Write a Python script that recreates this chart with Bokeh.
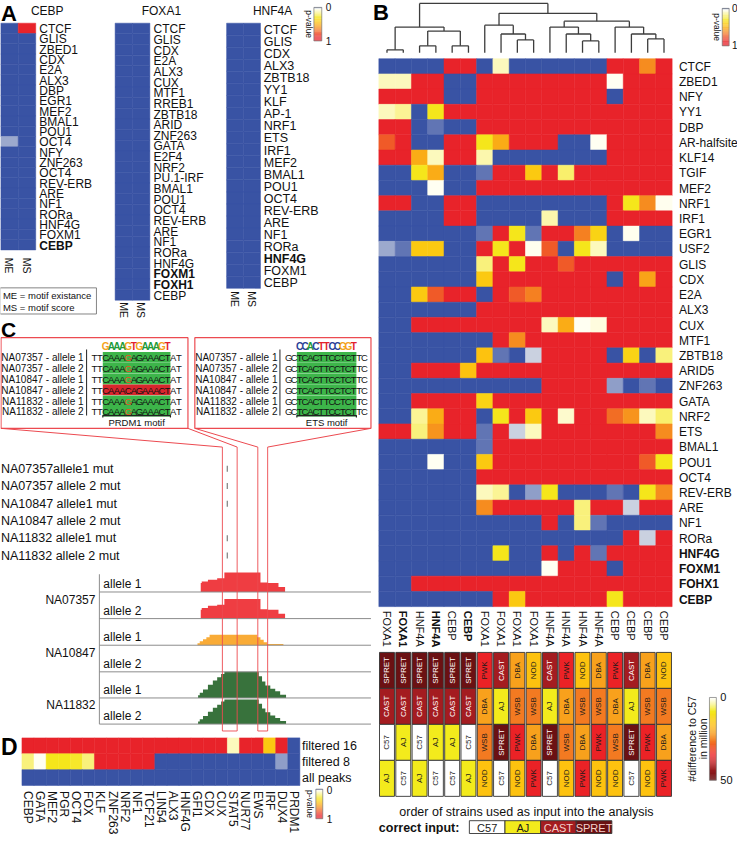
import numpy as np
from bokeh.plotting import figure
from bokeh.models import ColumnDataSource, LinearColorMapper, Range1d
from bokeh.core.properties import value
from bokeh.embed import file_html
from bokeh.resources import INLINE

# ============================ DATA ============================
# ---- Panel A: p-values of motif enrichment (ME = motif existance, MS = motif score)
a_cebp_motifs = ["CTCF", "GLIS", "ZBED1", "CDX", "E2A", "ALX3", "DBP", "EGR1", "MEF2", "BMAL1", "POU1",
                 "OCT4", "NFY", "ZNF263", "OCT4", "REV-ERB", "ARE", "NF1", "RORa", "HNF4G", "FOXM1", "CEBP"]
a_cebp_me = [0, 0, 0, 0, 0, 0, 0, 0, 0, 0, 0, 0.015, 0, 0, 0, 0, 0, 0, 0, 0, 0, 0]
a_cebp_ms = [1, 0, 0, 0, 0, 0, 0, 0, 0, 0, 0, 0, 0, 0, 0, 0, 0, 0, 0, 0, 0, 0]

a_foxa1_motifs = ["CTCF", "GLIS", "CDX", "E2A", "ALX3", "CUX", "MTF1", "RREB1", "ZBTB18", "ARID", "ZNF263",
                  "GATA", "E2F4", "NRF2", "PU.1-IRF", "BMAL1", "POU1", "OCT4", "REV-ERB", "ARE", "NF1", "RORa",
                  "HNF4G", "FOXM1", "FOXH1", "CEBP"]
a_foxa1_me = [0, 0, 0, 0, 0, 0, 0, 0, 0, 0, 0, 0, 0, 0, 0, 0, 0, 0, 0, 0, 0, 0, 0, 0, 0, 0]
a_foxa1_ms = [0, 0, 0, 0, 0, 0, 0, 0, 0, 0, 0, 0, 0, 0, 0, 0, 0, 0, 0, 0, 0, 0, 0, 0, 0, 0]

a_hnf4a_motifs = ["CTCF", "GLIS", "CDX", "ALX3", "ZBTB18", "YY1", "KLF", "AP-1", "NRF1", "ETS", "IRF1",
                  "MEF2", "BMAL1", "POU1", "OCT4", "REV-ERB", "ARE", "NF1", "RORa", "HNF4G", "FOXM1", "CEBP"]
a_hnf4a_me = [0, 0, 0, 0, 0, 0, 0, 0, 0, 0, 0, 0, 0, 0, 0, 0, 0, 0, 0, 0, 0, 0]
a_hnf4a_ms = [0, 0, 0, 0, 0, 0, 0, 0, 0, 0, 0, 0, 0, 0, 0, 0, 0, 0, 0, 0, 0, 0]

# ---- Panel B: p-values, rows = motifs, columns = analyses
b_columns = ["FOXA1", "FOXA1", "HNF4A", "HNF4A", "CEBP", "CEBP", "FOXA1", "FOXA1", "FOXA1", "FOXA1",
             "HNF4A", "HNF4A", "HNF4A", "HNF4A", "CEBP", "CEBP", "CEBP", "CEBP"]
b_motifs = ["CTCF", "ZBED1", "NFY", "YY1", "DBP", "AR-halfsite", "KLF14", "TGIF", "MEF2", "NRF1", "IRF1",
            "EGR1", "USF2", "GLIS", "CDX", "E2A", "ALX3", "CUX", "MTF1", "ZBTB18", "ARID5", "ZNF263", "GATA",
            "NRF2", "ETS", "BMAL1", "POU1", "OCT4", "REV-ERB", "ARE", "NF1", "RORa", "HNF4G", "FOXM1",
            "FOHX1", "CEBP"]
b_pvalues = [
    [0, 0, 0, 0, 1, 1, 0, 0.1, 0, 0, 0, 0, 0, 0, 1, 1, 0.62, 1],
    [0.1, 0.1, 1, 1, 0, 0, 1, 1, 1, 1, 1, 1, 1, 1, 0.035, 1, 1, 1],
    [1, 1, 1, 1, 0, 0, 1, 1, 1, 1, 1, 1, 1, 1, 0, 1, 1, 1],
    [0.1, 0.15, 0, 0.3, 1, 1, 1, 1, 1, 1, 1, 1, 1, 1, 1, 1, 1, 1],
    [1, 1, 0, 0.006, 0, 0, 1, 1, 1, 1, 1, 1, 1, 1, 1, 1, 1, 1],
    [0.75, 1, 0, 0, 1, 1, 0.3, 0.52, 1, 1, 1, 0, 0, 0.035, 1, 1, 1, 1],
    [1, 1, 0.52, 0.1, 1, 1, 0.12, 0, 0, 0, 0, 0, 0, 0, 1, 1, 1, 1],
    [0, 0, 0.3, 0.52, 0, 0, 0.006, 1, 1, 0.42, 1, 0.2, 1, 1, 1, 1, 1, 1],
    [0, 0, 0, 0.035, 0, 0, 1, 1, 1, 1, 1, 1, 1, 1, 1, 1, 1, 1],
    [1, 1, 0, 0, 1, 1, 0, 0, 0, 0, 0, 0, 0, 0, 1, 0.3, 0.62, 0.04],
    [0, 0, 0, 0, 1, 1, 0, 0, 0, 0, 0.12, 0, 0, 0, 1, 1, 1, 1],
    [0, 0, 0, 0, 0, 0, 0.006, 1, 0.3, 0.006, 1, 1, 0.65, 0.38, 0, 0.04, 0, 0],
    [0.015, 0.006, 0.42, 0.42, 0, 0, 1, 0.3, 1, 0.04, 0.75, 0, 0.3, 0.1, 0, 0, 0, 0],
    [0, 0, 0, 0, 0, 0, 0.18, 1, 0.3, 1, 1, 0.75, 1, 1, 1, 1, 1, 1],
    [0, 0, 0, 0, 0, 0, 0.42, 1, 1, 1, 1, 1, 1, 1, 0, 1, 0.55, 1],
    [0, 0, 0.42, 0.75, 1, 1, 0, 1, 0.75, 0.65, 1, 1, 1, 1, 1, 1, 1, 1],
    [0, 0, 0, 0, 0, 0, 1, 1, 1, 1, 1, 1, 1, 1, 1, 1, 1, 1],
    [0, 0, 1, 1, 1, 1, 1, 1, 1, 1, 0.1, 0.52, 0.035, 0.06, 1, 1, 1, 1],
    [0, 0, 0, 0, 0, 0, 0, 1, 0.62, 1, 1, 1, 1, 1, 1, 1, 1, 1],
    [0, 0, 0, 0, 0, 0, 0.45, 0.006, 0, 0.022, 1, 1, 1, 1, 0, 0.38, 0, 0.18],
    [0, 0, 1, 1, 1, 0.45, 1, 1, 1, 1, 1, 1, 1, 1, 1, 1, 1, 1],
    [0, 0, 0, 0, 0, 0, 0, 0, 0, 0, 1, 1, 1, 1, 0.013, 0, 0.006, 0],
    [0, 0, 1, 1, 1, 1, 0.38, 1, 1, 1, 1, 1, 1, 1, 1, 1, 1, 1],
    [0, 0, 0.15, 0.52, 1, 1, 0, 0.3, 1, 0.42, 1, 0.08, 1, 1, 0.7, 0.6, 0.1, 0.2],
    [1, 1, 0.18, 0.6, 1, 1, 0.006, 1, 0.022, 0.1, 1, 1, 1, 1, 1, 1, 1, 0.62],
    [0, 0, 0, 0, 0, 0, 0.006, 1, 1, 1, 1, 1, 1, 1, 1, 1, 1, 1],
    [0, 0, 0, 0.035, 0, 0, 0.42, 1, 1, 1, 1, 1, 1, 1, 1, 1, 0.75, 0.3],
    [0, 0, 0, 0, 0, 0, 1, 1, 1, 1, 1, 1, 1, 1, 1, 1, 1, 1],
    [0, 0, 0, 0, 0, 0, 0.1, 0.15, 0, 0.013, 0.3, 0, 0, 0, 0.006, 0, 0.3, 0.62],
    [0, 0, 0, 0, 0, 0, 0.62, 1, 1, 1, 1, 1, 0.18, 1, 1, 0.022, 1, 1],
    [0, 0, 0, 0, 0, 0, 0, 0, 0, 0, 1, 0, 0.18, 0.006, 0, 0, 0, 0],
    [0, 0, 0, 0, 0, 0, 0, 0, 0, 0, 0, 0, 0, 0, 0, 1, 0.022, 0.9],
    [0, 0, 0, 0, 0, 0, 0, 0.3, 0, 0, 1, 0, 1, 0.006, 1, 1, 1, 1],
    [0, 0, 0, 0, 0, 0, 0, 0, 0, 0, 0.035, 1, 1, 1, 0, 1, 1, 1],
    [0, 0, 1, 1, 1, 1, 1, 1, 1, 1, 1, 1, 1, 1, 1, 1, 1, 1],
    [0, 0, 0, 0, 0, 0, 0, 1, 0.42, 1, 1, 1, 1, 1, 0.3, 1, 1, 1],
]
# dendrogram merges: (node a, node b, height); leaves 0..17, merged nodes numbered 18, 19, ...
b_merges = [(0, 1, 3), (2, 3, 7), (4, 5, 7), (19, 20, 22), (18, 21, 26), (8, 9, 13), (7, 23, 19),
            (6, 24, 28), (12, 13, 12), (11, 26, 19), (10, 27, 26), (16, 17, 14), (15, 29, 19),
            (14, 30, 26), (28, 31, 32), (25, 32, 40), (22, 33, 50)]
# order of strains given as input (top to bottom) for each column
b_strain_order = [
    ["SPRET", "CAST", "C57", "AJ"], ["SPRET", "CAST", "AJ", "C57"], ["SPRET", "CAST", "C57", "AJ"],
    ["SPRET", "CAST", "AJ", "C57"], ["SPRET", "CAST", "AJ", "C57"], ["SPRET", "CAST", "C57", "AJ"],
    ["PWK", "DBA", "WSB", "NOD"], ["CAST", "AJ", "SPRET", "C57"], ["DBA", "WSB", "PWK", "NOD"],
    ["NOD", "WSB", "DBA", "PWK"], ["CAST", "AJ", "SPRET", "C57"], ["PWK", "DBA", "WSB", "NOD"],
    ["NOD", "WSB", "DBA", "PWK"], ["DBA", "WSB", "PWK", "NOD"], ["PWK", "DBA", "WSB", "NOD"],
    ["CAST", "AJ", "SPRET", "C57"], ["DBA", "WSB", "PWK", "NOD"], ["NOD", "WSB", "DBA", "PWK"],
]
strain_names = ["C57", "AJ", "NOD", "DBA", "WSB", "PWK", "CAST", "SPRET"]
strain_diff_million = [0, 8, 16, 21, 26, 35, 42, 50]
correct_input = ["C57", "AJ", "CAST", "SPRET"]

# ---- Panel C: sequences around the two motifs
c_samples = ["NA07357 - allele 1", "NA07357 - allele 2", "NA10847 - allele 1",
             "NA10847 - allele 2", "NA11832 - allele 1", "NA11832 - allele 2"]
c_prdm1_seq = ["TTCAAAGAGAAACTAT", "TTCAAAGAGAAACTAT", "TTCAAAGAGAAACTAT",
               "TTCAAACAGAAACTAT", "TTCAAAGAGAAACTAT", "TTCAAAGAGAAACTAT"]
c_prdm1_hit = [1, 1, 1, 0, 1, 1]
c_prdm1_logo = "GAAAGTGAAAGT"
c_ets_seq = ["GCTCACTTCCTCTTC"] * 6
c_ets_hit = [1, 1, 1, 1, 1, 1]
c_ets_logo = "CCACTTCCGGT"
c_mut_labels = ["NA07357allele1 mut", "NA07357 allele 2 mut", "NA10847 allele1 mut",
                "NA10847 allele 2 mut", "NA11832 allele1 mut", "NA11832 allele 2 mut"]
c_mut_present = [1, 1, 1, 0, 1, 1]
c_track_samples = ["NA07357", "NA10847", "NA11832"]
c_track_alleles = ["allele 1", "allele 2", "allele 1", "allele 2", "allele 1", "allele 2"]
# coverage profiles: step edges (genome position, drawn units) and heights between edges
c_cov_edges = [
    [206, 207, 213.3, 222.7, 230, 266.7, 274, 285, 291.7],
    [206, 207, 213.3, 222.7, 230, 266.7, 274, 285, 291.7],
    [202.7, 205, 208.3, 211.7, 215, 263.3, 266.7, 270, 273.3, 290],
    [],
    [203.3, 205, 208.3, 213.3, 218.3, 222.7, 226.7, 230, 265, 268.3, 271.7, 276.7, 281.7, 286.7, 292.7],
    [203.3, 205, 208.3, 213.3, 218.3, 222.7, 226.7, 230, 265, 268.3, 271.7, 276.7, 281.7, 286.7, 292.7],
]
c_cov_heights = [
    [9, 10.7, 12.3, 14, 19.7, 9.7, 9, 5],
    [9, 10.7, 13, 14, 20, 9.5, 9, 5],
    [2, 4, 6, 8, 10.7, 8, 5.5, 3, 1.3],
    [],
    [2.7, 5.3, 8.7, 13.3, 17.7, 21, 24.3, 26.7, 22, 16.7, 12.7, 9.3, 6.7, 3.3],
    [2.5, 5, 8.2, 12.5, 16.6, 19.7, 22.8, 25, 20.6, 15.7, 11.9, 8.7, 6.3, 3.1],
]

# ---- Panel D: p-values per peak set
d_motifs = ["CEBP", "GATA", "MEF2", "PGR", "OCT4", "FOX", "KLF", "ZNF263", "NRF2", "NF1", "TCF21", "LIN54",
            "ALX3", "HNF4G", "GFI1", "CDX", "CUX", "STAT5", "NUR77", "EWS", "IRF", "DUX4", "PRDM1"]
d_sets = ["filtered 16", "filtered 8", "all peaks"]
d_filtered16 = [1, 1, 1, 1, 1, 1, 1, 1, 1, 1, 1, 1, 1, 1, 1, 1, 1, 0.1, 1, 1, 0.42, 1, 0]
d_filtered8 = [0.18, 0.035, 0.3, 0.3, 0.28, 0.18, 1, 1, 1, 1, 1, 0, 0, 0, 0, 0, 0, 0, 0, 0, 0, 0.013, 0]
d_allpeaks = [0, 0, 0, 0, 0, 0, 0, 0, 0, 0, 0, 0, 0, 0, 0, 0, 0, 0, 0, 0, 0, 0, 0]

# ============================ STYLE ============================
FONT = "Liberation Sans"
BLUE = "#3953A4"
P_ANCHORS = [(0.0, BLUE), (0.03, "#FFFFF6"), (0.3, "#F5E61B"), (0.45, "#FDC20F"), (0.6, "#F7941D"),
             (0.75, "#F05A28"), (0.9, "#E8232A"), (1.0, "#E8232A")]
S_ANCHORS = [(0, "#FFFFFF"), (8, "#F3EB1C"), (16, "#FDC20F"), (21, "#F8A11C"), (26, "#F37B21"),
             (35, "#EC2226"), (42, "#A51C20"), (50, "#6B1113")]
LOGO_COL = {"A": "#1E9B3A", "C": "#2B3F98", "G": "#F4A21A", "T": "#E3232B"}


def make_palette(anchors, n):
    lo, hi = anchors[0][0], anchors[-1][0]
    pos = [(a - lo) / (hi - lo) for a, _ in anchors]
    rgb = [tuple(int(c[i:i + 2], 16) for i in (1, 3, 5)) for _, c in anchors]
    out = []
    for t in np.linspace(0, 1, n):
        r = [int(round(np.interp(t, pos, [c[k] for c in rgb]))) for k in range(3)]
        out.append("#%02x%02x%02x" % tuple(r))
    return out


p_mapper = LinearColorMapper(palette=make_palette(P_ANCHORS, 1000), low=0, high=1)
s_mapper = LinearColorMapper(palette=make_palette(S_ANCHORS, 500), low=0, high=50)

p = figure(width=737, height=834, x_range=Range1d(2.5, 751.5), y_range=Range1d(848, 2),
           output_backend="svg", toolbar_location=None, x_axis_location=None, y_axis_location=None,
           min_border=0, background_fill_color="white", border_fill_color="white")
p.grid.visible = False
p.outline_line_color = None


def txt(xs, ys, ts, size, align="left", baseline="middle", angle=0.0, style="normal", color="#111111"):
    data = dict(x=list(xs), y=list(ys), t=list(ts))
    kw = {}
    if isinstance(color, (list, tuple)):
        data["c"] = list(color)
        kw["text_color"] = {"field": "c"}
    else:
        kw["text_color"] = color
    p.text(x="x", y="y", text="t", source=ColumnDataSource(data), text_font=value(FONT),
           text_font_size=value(size), text_align=align, text_baseline=baseline, angle=angle,
           text_font_style=style, **kw)


def cells(xs, ys, w, h, vals, mapper, line_color=None, line_width=0.5):
    src = ColumnDataSource(dict(x=list(xs), y=list(ys), v=list(vals)))
    lc = {"field": "v", "transform": mapper} if line_color is None else line_color
    p.rect(x="x", y="y", width=w, height=h, source=src,
           fill_color={"field": "v", "transform": mapper}, line_color=lc, line_width=line_width)


def heat(mat, xl, yt, cw, ch, mapper):
    xs, ys, vs = [], [], []
    for i, row in enumerate(mat):
        for j, v in enumerate(row):
            xs.append(xl + (j + 0.5) * cw)
            ys.append(yt + (i + 0.5) * ch)
            vs.append(v)
    cells(xs, ys, cw, ch, vs, mapper)


def gradient(mapper, lo, hi, x0, x1, y0, y1, n=80):
    vals = np.linspace(lo, hi, n)
    h = (y1 - y0) / n
    src = ColumnDataSource(dict(x=[(x0 + x1) / 2] * n, y=[y0 + (i + 0.5) * h for i in range(n)], v=list(vals)))
    p.rect(x="x", y="y", width=x1 - x0, height=h * 1.05, source=src,
           fill_color={"field": "v", "transform": mapper}, line_color=None)
    p.quad(left=x0, right=x1, top=y0, bottom=y1, fill_color=None, line_color="#777777", line_width=0.7)


HALF_PI = np.pi / 2

# ============================ PANEL A ============================
txt([3], [15], ["A"], "22px", style="bold", color="black")
a_panels = [
    dict(m=a_cebp_motifs, me=a_cebp_me, ms=a_cebp_ms, title="CEBP", xl=2.7, xr=38.3, yt=25, yb=255,
         lx=42, tx=50, fs="12px", bold=[21], ly=263),
    dict(m=a_foxa1_motifs, me=a_foxa1_me, ms=a_foxa1_ms, title="FOXA1", xl=119, xr=154.3, yt=25, yb=306,
         lx=158, tx=166, fs="12px", bold=[23, 24], ly=308),
    dict(m=a_hnf4a_motifs, me=a_hnf4a_me, ms=a_hnf4a_ms, title="HNF4A", xl=232.3, xr=266.7, yt=25, yb=294,
         lx=270, tx=279, fs="12.5px", bold=[19], ly=297),
]
for pa in a_panels:
    n = len(pa["m"])
    cw = (pa["xr"] - pa["xl"]) / 2
    ch = (pa["yb"] - pa["yt"]) / n
    heat([[a, b] for a, b in zip(pa["me"], pa["ms"])], pa["xl"], pa["yt"], cw, ch, p_mapper)
    ys = [pa["yt"] + (i + 0.5) * ch + 0.8 for i in range(n)]
    norm = [i for i in range(n) if i not in pa["bold"]]
    txt([pa["lx"]] * len(norm), [ys[i] for i in norm], [pa["m"][i] for i in norm], pa["fs"])
    txt([pa["lx"]] * len(pa["bold"]), [ys[i] for i in pa["bold"]], [pa["m"][i] for i in pa["bold"]],
        pa["fs"], style="bold")
    txt([pa["tx"]], [12.5], [pa["title"]], "12px", align="center")
    txt([pa["xl"] + 0.5 * cw, pa["xl"] + 1.5 * cw], [pa["ly"], pa["ly"]], ["ME", "MS"], "10.5px",
        angle=-HALF_PI)
p.quad(left=2, right=100, top=293.5, bottom=320, fill_color=None, line_color="#666666", line_width=0.8)
txt([5, 5], [300.8, 313], ["ME = motif existance", "MS = motif score"], "9.5px")
gradient(p_mapper, 0, 1, 321, 329, 9, 43)
txt([316], [26], ["p-value"], "8.5px", align="center", angle=-HALF_PI)
txt([333, 333], [9, 43], ["0", "1"], "10px")

# ============================ PANEL B ============================
txt([381], [14], ["B"], "22px", style="bold", color="black")
B_XL, B_CW, B_YT, B_CH = 387, 16.56, 61, 15.44
heat(b_pvalues, B_XL, B_YT, B_CW, B_CH, p_mapper)
nb = len(b_motifs)
rows_y = [B_YT + (i + 0.5) * B_CH + 0.5 for i in range(nb)]
bold_rows = [32, 33, 34, 35]
norm_rows = [i for i in range(nb) if i not in bold_rows]
txt([692] * len(norm_rows), [rows_y[i] for i in norm_rows], [b_motifs[i] for i in norm_rows], "12px")
txt([692] * len(bold_rows), [rows_y[i] for i in bold_rows], [b_motifs[i] for i in bold_rows], "12px",
    style="bold")
col_x = [B_XL + (j + 0.5) * B_CW for j in range(len(b_columns))]
bold_cols = [1, 3, 5]
norm_cols = [j for j in range(len(b_columns)) if j not in bold_cols]
txt([col_x[j] for j in norm_cols], [621] * len(norm_cols), [b_columns[j] for j in norm_cols], "11px",
    angle=-HALF_PI)
txt([col_x[j] for j in bold_cols], [621] * len(bold_cols), [b_columns[j] for j in bold_cols], "11px",
    angle=-HALF_PI, style="bold")

# dendrogram
LEAF_Y = 55
node_x = list(col_x)
node_h = [0.0] * len(col_x)
sx0, sy0, sx1, sy1 = [], [], [], []
for a, b, h in b_merges:
    yn = LEAF_Y - h
    for c in (a, b):
        sx0.append(node_x[c]); sy0.append(LEAF_Y - node_h[c]); sx1.append(node_x[c]); sy1.append(yn)
    sx0.append(node_x[a]); sy0.append(yn); sx1.append(node_x[b]); sy1.append(yn)
    node_x.append((node_x[a] + node_x[b]) / 2)
    node_h.append(h)
p.segment(x0=sx0, y0=sy0, x1=sx1, y1=sy1, line_color="#3d3d3d", line_width=1.3)

gradient(p_mapper, 0, 1, 736, 743, 10, 48)
txt([731], [29], ["p-value"], "8.5px", align="center", angle=-HALF_PI)
txt([746, 746], [10, 47], ["0", "1"], "10px")

# strain order boxes
S_TOP, S_H, S_W = 663.3, 36.5, 15.2
diff_of = dict(zip(strain_names, strain_diff_million))
bx, by, bv, tcol, tt = [], [], [], [], []
for j, order in enumerate(b_strain_order):
    for k, s in enumerate(order):
        bx.append(col_x[j]); by.append(S_TOP + (k + 0.5) * S_H); bv.append(diff_of[s]); tt.append(s)
        tcol.append("#ffffff" if diff_of[s] >= 40 else "#1a1a1a")
cells(bx, by, S_W, S_H, bv, s_mapper, line_color="#333333", line_width=0.9)
txt(bx, by, tt, "8px", align="center", angle=HALF_PI, color=tcol)
txt([537], [825], ["order of strains used as input into the analysis"], "12.5px", align="center")
txt([387], [841], ["correct input:"], "12.5px", style="bold")
LEG_X0, LEG_W = 479, 36.2
lx = [LEG_X0 + (k + 0.5) * LEG_W for k in range(len(correct_input))]
lv = [diff_of[s] for s in correct_input]
cells(lx, [840.5] * 4, LEG_W, 13, lv, s_mapper, line_color="#333333", line_width=0.9)
txt(lx, [841] * 4, correct_input, "11px", align="center",
    color=["#f3d0cc" if v >= 40 else "#1a1a1a" for v in lv])
gradient(s_mapper, 0, 50, 723, 730, 709, 793)
txt([734, 734], [709, 793], ["0", "50"], "11px")
txt([705, 716], [751, 751], ["#difference to C57", "in million"], "10.5px", align="center", angle=HALF_PI)

# ============================ PANEL C ============================
txt([3], [336], ["C"], "21px", style="bold", color="black")
RED_LINE = "#EC4A50"
ROW_Y = [364, 375, 386, 397, 408, 418.6]
ROW_H = 10.8
boxes = [dict(x0=3, x1=193, lab_x=87, vline=90, seq=c_prdm1_seq, hit=c_prdm1_hit, logo=c_prdm1_logo,
              sx=95, pitch=5.73, m0=2, m1=14, mut=6, cap="PRDM1 motif"),
         dict(x0=200, x1=379, lab_x=284, vline=286.5, seq=c_ets_seq, hit=c_ets_hit, logo=c_ets_logo,
              sx=292.7, pitch=5.5, m0=2, m1=13, mut=None, cap="ETS motif")]
for bxd in boxes:
    p.quad(left=bxd["x0"], right=bxd["x1"], top=344, bottom=436, fill_color="white", line_color=RED_LINE,
           line_width=1.2)
    txt([bxd["lab_x"]] * 6, [y + 0.3 for y in ROW_Y], c_samples, "10px", align="right")
    p.segment(x0=[bxd["vline"]], y0=[356], x1=[bxd["vline"]], y1=[423], line_color="#222222", line_width=1)
    mx0 = bxd["sx"] + bxd["m0"] * bxd["pitch"]
    mx1 = bxd["sx"] + bxd["m1"] * bxd["pitch"]
    p.quad(left=[mx0] * 6, right=[mx1] * 6, top=[y - ROW_H / 2 for y in ROW_Y],
           bottom=[y + ROW_H / 2 for y in ROW_Y],
           fill_color=["#3DB54A" if h else "#D9262D" for h in bxd["hit"]], line_color=None)
    cx, cy, ct, cc = [], [], [], []
    for r, s in enumerate(bxd["seq"]):
        for i, ch_ in enumerate(s):
            cx.append(bxd["sx"] + (i + 0.5) * bxd["pitch"]); cy.append(ROW_Y[r] + 0.4); ct.append(ch_)
            cc.append("#E8501F" if (bxd["mut"] == i and bxd["hit"][r]) else "#111111")
    txt(cx, cy, ct, "9.5px", align="center", color=cc)
    lgx = [bxd["sx"] + (bxd["m0"] + i + 0.5) * bxd["pitch"] for i in range(len(bxd["logo"]))]
    txt(lgx, [353] * len(lgx), list(bxd["logo"]), "10px", align="center", style="bold",
        color=[LOGO_COL[c] for c in bxd["logo"]])
    p.multi_line(xs=[[mx0, mx0, mx1, mx1]], ys=[[425, 423, 423, 425]], line_color="#222222", line_width=1.2)
    txt([(mx0 + mx1) / 2], [430.5], [bxd["cap"]], "9.5px", align="center")

# funnel and region rectangles
REG = [(228, 243), (264, 274)]
p.segment(x0=[3, 193, 200, 379], y0=[436] * 4, x1=[REG[0][0], REG[0][1], REG[1][0], REG[1][1]],
          y1=[455] * 4, line_color=RED_LINE, line_width=1)

# mutation rows
MUT_Y = [477, 494.5, 512.5, 530, 547.5, 565]
txt([3] * 6, MUT_Y, c_mut_labels, "12.5px")
mk = [i for i in range(6) if c_mut_present[i]]
p.segment(x0=[233] * len(mk), y0=[MUT_Y[i] - 3 for i in mk], x1=[233] * len(mk),
          y1=[MUT_Y[i] + 3 for i in mk], line_color="#888888", line_width=1.3)

# coverage tracks
BASE_Y = [602, 629, 656, 683, 709.5, 736]
TRACK_COL = ["#EE3338", "#EE3338", "#F9A72B", "#F9A72B", "#2D6A31", "#2D6A31"]
for t in range(6):
    e, hts = c_cov_edges[t], c_cov_heights[t]
    if not e:
        continue
    px, py = [e[0]], [BASE_Y[t]]
    for i, h in enumerate(hts):
        px += [e[i], e[i + 1]]
        py += [BASE_Y[t] - h, BASE_Y[t] - h]
    px.append(e[-1]); py.append(BASE_Y[t])
    p.patch(x=px, y=py, fill_color=TRACK_COL[t], line_color=None, fill_alpha=0.95)
p.segment(x0=[103] * 6, y0=BASE_Y, x1=[379] * 6, y1=BASE_Y, line_color="#8c8c8c", line_width=1)
p.segment(x0=[103], y0=[584], x1=[103], y1=[736], line_color="#8c8c8c", line_width=1)
txt([107] * 6, [b - 8 for b in BASE_Y], c_track_alleles, "12px")
txt([99] * 3, [610, 664, 716.5], c_track_samples, "12px", align="right")
p.multi_line(xs=[[a, a, b, b] for a, b in REG], ys=[[455, 743, 743, 455]] * 2, line_color=RED_LINE,
             line_width=1, line_alpha=0.9)

# ============================ PANEL D ============================
txt([3], [759], ["D"], "23px", style="bold", color="black")
D_XL, D_CW, D_YT, D_CH = 24.3, 12.28, 750, 16.1
heat([d_filtered16, d_filtered8, d_allpeaks], D_XL, D_YT, D_CW, D_CH, p_mapper)
txt([309] * 3, [D_YT + (i + 0.5) * D_CH + 0.5 for i in range(3)], d_sets, "12.5px")
txt([D_XL + (j + 0.5) * D_CW for j in range(len(d_motifs))], [804] * len(d_motifs), d_motifs, "12px",
    angle=-HALF_PI)
gradient(p_mapper, 0, 1, 323, 330, 802, 832)
txt([317], [817], ["p-value"], "8.5px", align="center", angle=-HALF_PI)
txt([334, 334], [803, 832], ["0", "1"], "10px")

open("out.html", "w").write(file_html(p, INLINE))
